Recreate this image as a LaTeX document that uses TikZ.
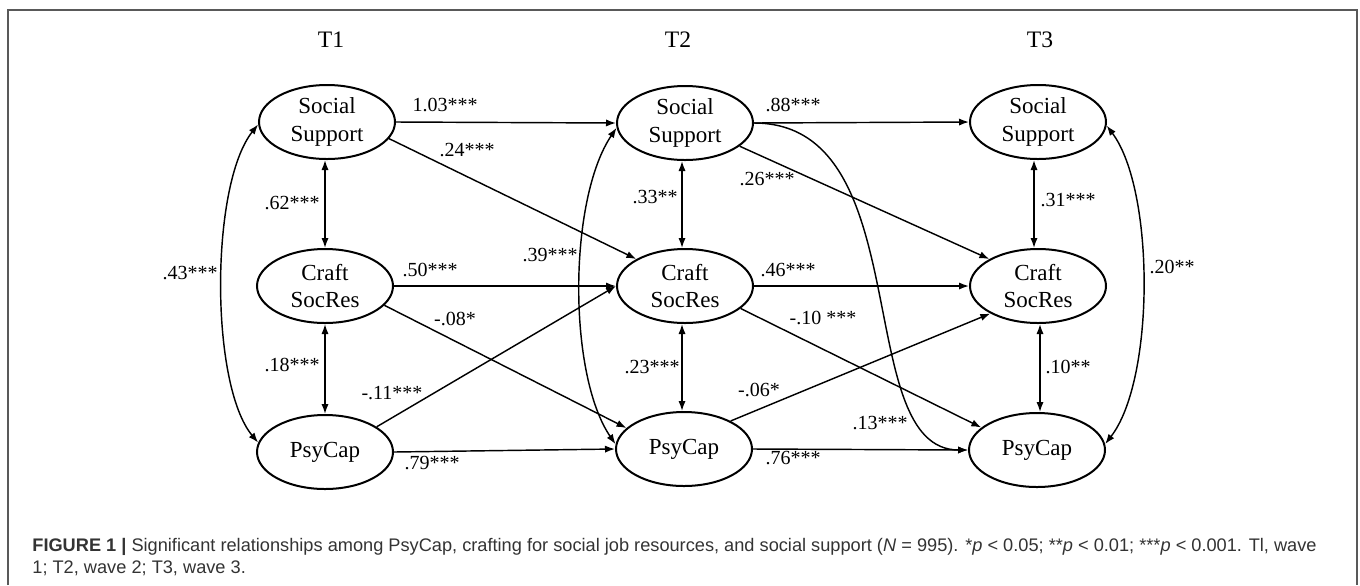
\documentclass[tikz,border=0pt]{standalone}
\usepackage{fontspec}
\setmainfont{Liberation Serif}
\newfontfamily\capfont{Liberation Sans}
\usetikzlibrary{arrows.meta,shapes.geometric}
\begin{document}
\begin{tikzpicture}[x=0.5pt,y=-0.5pt,
  var/.style={ellipse,draw,line width=1pt,minimum width=68pt,minimum height=37pt,inner sep=0pt,align=center,font=\fontsize{11.5}{13.8}\selectfont},
  reg/.style={-{Latex[length=5pt,width=3.6pt]},line width=0.72pt},
  cov/.style={{Latex[length=5pt,width=3.6pt]}-{Latex[length=5pt,width=3.6pt]},line width=0.72pt},
  lab/.style={font=\fontsize{10}{12}\selectfont,inner sep=0pt},
  tlab/.style={font=\fontsize{11.8}{14}\selectfont,inner sep=0pt},
  capstyle/.style={font=\capfont\fontsize{9.1}{11}\selectfont,text=black!80,inner sep=0pt,anchor=base west}
]
\useasboundingbox (0,0) rectangle (1360,585);
\draw[black!65,line width=0.7pt] (8,585) -- (8,10) -- (1357,10) -- (1357,585);

\node[tlab] (t1) at (331,40) {T1};
\node[tlab] (t2) at (678,40) {T2};
\node[tlab] (t3) at (1040,40) {T3};

\node[var] (s1) at (327,122) {Social\\Support};
\node[var] (c1) at (325,286) {Craft\\SocRes};
\node[var] (p1) at (325,452) {PsyCap};
\node[var] (s2) at (685,123) {Social\\Support};
\node[var] (c2) at (685,286) {Craft\\SocRes};
\node[var] (p2) at (684,449) {PsyCap};
\node[var] (s3) at (1038,122) {Social\\Support};
\node[var] (c3) at (1038,286) {Craft\\SocRes};
\node[var] (p3) at (1037,450) {PsyCap};

% regressions
\draw[reg] (s1.east) -- (s2.west);
\draw[reg] (s1.-15) -- (c2.151);
\draw[reg] (c1.east) -- (c2.west);
\draw[reg] (c1.-18) -- (p2.160);
\draw[reg] (p1.26) -- (c2.west);
\draw[reg] (p1.east) -- (p2.west);
\draw[reg] (s2.east) -- (s3.west);
\draw[reg] (s2.-23) -- (c3.151);
\draw[reg] (c2.east) -- (c3.west);
\draw[reg] (c2.-22) -- (p3.158);
\draw[reg] (p2.31) -- (c3.210);
\draw[reg] (p2.east) -- (p3.west);
\draw[reg] (s2.east) .. controls (920,123) and (850,450) .. (p3.west);

% covariances
\draw[cov] ([xshift=-1pt]s1.south) -- (c1.north);
\draw[cov] (c1.south) -- (p1.north);
\draw[cov] ([xshift=-1.5pt]s2.south) -- ([xshift=-1.5pt]c2.north);
\draw[cov] ([xshift=-1.5pt]c2.south) -- ([xshift=-1pt]p2.north);
\draw[cov] ([xshift=-2pt]s3.south) -- ([xshift=-2pt]c3.north);
\draw[cov] ([xshift=1pt]c3.south) -- ([xshift=1.5pt]p3.north);
\draw[cov] (s1.182) .. controls (210,185) and (210,385) .. (p1.172);
\draw[cov] (s2.184) .. controls (568,200) and (568,375) .. (p2.176);
\draw[cov] (s3.-3) .. controls (1155,190) and (1155,380) .. (p3.5);

% labels
\node[lab] (l1) at (445,105) {1.03***};
\node[lab] (l2) at (467,150) {.24***};
\node[lab] (l3) at (292,203) {.62***};
\node[lab] (l4) at (430,270) {.50***};
\node[lab] (l5) at (455,319) {-.08*};
\node[lab] (l6) at (292,365) {.18***};
\node[lab] (l7) at (392,393) {-.11***};
\node[lab] (l8) at (432,463) {.79***};
\node[lab] (l9) at (190,273) {.43***};
\node[lab] (l10) at (550,255) {.39***};
\node[lab] (l11) at (655,197) {.33**};
\node[lab] (l12) at (652,367) {.23***};
\node[lab] (l13) at (793,105) {.88***};
\node[lab] (l14) at (767,179) {.26***};
\node[lab] (l15) at (788,270) {.46***};
\node[lab] (l16) at (823,318) {-.10 ***};
\node[lab] (l17) at (759,390) {-.06*};
\node[lab] (l18) at (880,423) {.13***};
\node[lab] (l19) at (793,458) {.76***};
\node[lab] (l20) at (1068,200) {.31***};
\node[lab] (l21) at (1068,367) {.10**};
\node[lab] (l22) at (1172,267) {.20**};

% caption
\node[capstyle] (cap1) at (32,551) {\textbf{FIGURE 1 |} Significant relationships among PsyCap, crafting for social job resources, and social support (\textit{N} = 995). *\textit{p} < 0.05; **\textit{p} < 0.01; ***\textit{p} < 0.001. Tl, wave};
\node[capstyle] (cap2) at (32,573) {1; T2, wave 2; T3, wave 3.};
\end{tikzpicture}
\end{document}
